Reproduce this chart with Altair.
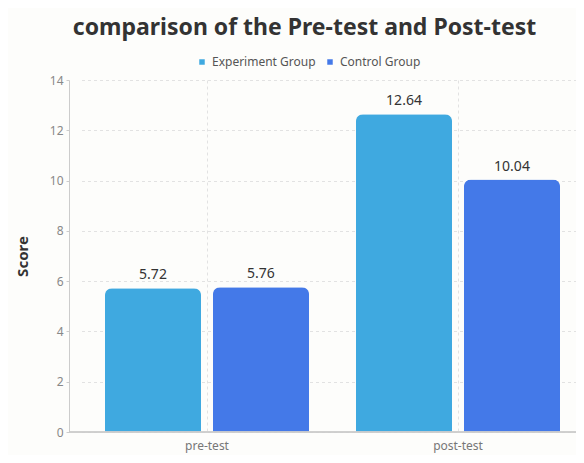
import altair as alt
import pandas as pd

categories = ["pre-test", "post-test"]
groups = ["Experiment Group", "Control Group"]
experiment = [5.72, 12.64]
control = [5.76, 10.04]
colors = ["#3FA9E0", "#4479E8"]

rows = []
for i, c in enumerate(categories):
    rows.append({"test": c, "group": groups[0], "score": experiment[i]})
    rows.append({"test": c, "group": groups[1], "score": control[i]})
df = pd.DataFrame(rows)

FONT = "Noto Sans"

x = alt.X("test:N", sort=categories, title=None,
          scale=alt.Scale(range=[12.5, 514.5], paddingInner=0, paddingOuter=0),
          axis=alt.Axis(domain=False, ticks=False, labelAngle=0, labelFontSize=12,
                        labelColor="#777777", labelFont=FONT, labelPadding=8,
                        grid=True, gridDash=[3, 3], gridColor="#e2e2e2"))
xo = alt.XOffset("group:N", sort=groups,
                 scale=alt.Scale(paddingInner=0.111, paddingOuter=0.2176))
y = alt.Y("score:Q", title="Score",
          scale=alt.Scale(domain=[0, 14], nice=False),
          axis=alt.Axis(values=[0, 2, 4, 6, 8, 10, 12, 14], labelFontSize=12,
                        labelColor="#888888", labelFont=FONT, tickSize=3,
                        tickColor="#cccccc", domainColor="#cccccc",
                        labelPadding=3, gridDash=[3, 3], gridColor="#e2e2e2",
                        titleFont=FONT, titleFontSize=15, titleFontWeight="bold",
                        titleColor="#333333", titlePadding=19))
color = alt.Color("group:N", sort=groups,
                  scale=alt.Scale(domain=groups, range=colors),
                  legend=alt.Legend(title=None, orient="none", direction="horizontal",
                                    legendX=127, legendY=-24, symbolType="square",
                                    symbolSize=30, labelFontSize=12,
                                    labelColor="#555555", labelFont=FONT,
                                    columnPadding=8, symbolOffset=0,
                                    labelOffset=4))

base = alt.Chart(df)
bars = base.mark_bar(cornerRadiusTopLeft=7, cornerRadiusTopRight=7).encode(
    x=x, xOffset=xo, y=y, color=color)
labels = base.mark_text(baseline="bottom", dy=-6, fontSize=14, color="#333333",
                        font=FONT).encode(
    x=alt.X("test:N", sort=categories), xOffset=alt.XOffset("group:N", sort=groups),
    y="score:Q", text=alt.Text("score:Q", format=".2f"))
rule = base.mark_rule(color="#cccccc", strokeWidth=1).encode(y=alt.datum(0))

chart = alt.layer(bars, labels, rule).properties(
    width=507, height=352,
    autosize=alt.AutoSizeParams(type="none"),
    padding={"left": 61, "top": 72, "right": 0, "bottom": 23},
    background="#fdfdfb",
    title=alt.TitleParams("comparison of the Pre-test and Post-test", font=FONT,
                          fontSize=23, fontWeight="bold", color="#333333",
                          anchor="middle", dx=-18, offset=16),
).configure_view(stroke=None)

chart.save("out.html", embed_options={"renderer": "svg", "actions": False})
